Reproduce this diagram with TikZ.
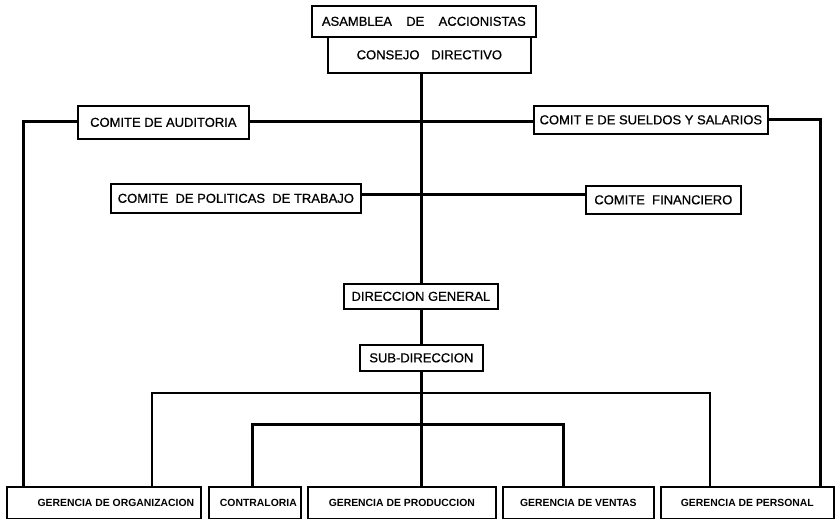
\documentclass[tikz,border=0pt]{standalone}
\usepackage{fontspec}
\setmainfont{Liberation Sans}
\newfontfamily\inkfont{Liberation Sans}[FakeBold=0.7]
\begin{document}
\begin{tikzpicture}[x=1pt,y=-1pt,
  box/.style={draw, line width=1.7pt, rectangle, inner sep=0pt, anchor=north west,
              font=\inkfont\fontsize{13}{15}\selectfont},
  lowbox/.style={box, font=\fontsize{10.4}{12}\selectfont\bfseries},
  conn/.style={line width=3pt},
  thinconn/.style={line width=1.2pt}]
  \useasboundingbox[fill=white] (0,0) rectangle (836,519);

  % vertical spine of the chart
  \coordinate (spine) at (421,0);

  % top of the hierarchy
  \node[box, minimum width=224, minimum height=31] (asm) at (311,5)
    {ASAMBLEA\hspace{1.1em}DE\hspace{1.1em}ACCIONISTAS};
  \node[box, minimum width=203, minimum height=36] (con) at (327,36)
    {CONSEJO\hspace{0.9em}DIRECTIVO};

  % committees
  \node[box, minimum width=171, minimum height=33] (aud) at (77,105) {COMITE DE AUDITORIA};
  \node[box, minimum width=234, minimum height=28] (sue) at (533,105) {COMIT E DE SUELDOS Y SALARIOS};
  \node[box, minimum width=250, minimum height=29] (pol) at (110,183) {COMITE\ \ DE POLITICAS\ \ DE TRABAJO};
  \node[box, minimum width=155, minimum height=28] (fin) at (585,185) {COMITE\ \ FINANCIERO};

  % executive line
  \node[box, minimum width=154, minimum height=25] (dir) at (343,283) {DIRECCION GENERAL};
  \node[box, minimum width=123, minimum height=26] (sub) at (359,344) {SUB-DIRECCION};

  % managements
  \node[lowbox, minimum width=194, minimum height=32] (org) at (6,486) {\hspace{24pt}GERENCIA DE ORGANIZACION};
  \node[lowbox, minimum width=92, minimum height=32] (ctr) at (208,486) {\hspace{7pt}CONTRALORIA};
  \node[lowbox, minimum width=188, minimum height=32] (prd) at (307,486) {GERENCIA DE PRODUCCION};
  \node[lowbox, minimum width=151, minimum height=32] (ven) at (502,486) {GERENCIA DE VENTAS};
  \node[lowbox, minimum width=173, minimum height=32] (per) at (660,486) {GERENCIA DE PERSONAL};

  % bend points
  \coordinate (audL) at (23,121);
  \coordinate (sueR) at (820,119);
  \coordinate (thinL) at (152,393);
  \coordinate (thinR) at (710,393);
  \coordinate (thkL) at (252,424);
  \coordinate (thkR) at (563,424);

  % spine
  \draw[conn] (con.south -| spine) -- (dir.north -| spine);
  \draw[conn] (dir.south -| spine) -- (sub.north -| spine);
  \draw[conn] (sub.south -| spine) -- (prd.north -| spine);

  % committee links
  \draw[conn] (aud.east |- audL) -- (sue.west |- audL);
  \draw[conn] (pol.east |- 0,194) -- (fin.west |- 0,194);
  \draw[conn] (aud.west |- audL) -- (audL) -- (org.north -| audL);
  \draw[conn] (sue.east |- sueR) -- (sueR) -- (per.north -| sueR);

  % thin bracket
  \draw[thinconn] (org.north -| thinL) -- (thinL) -- (thinR) -- (per.north -| thinR);

  % thick bracket
  \draw[conn] (ctr.north -| thkL) -- (thkL) -- (thkR) -- (ven.north -| thkR);
\end{tikzpicture}
\end{document}
